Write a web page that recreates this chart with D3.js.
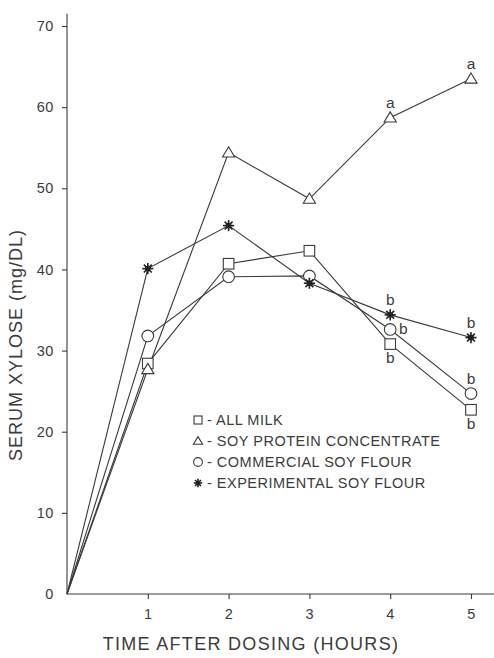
<!DOCTYPE html>
<html>
<head>
<meta charset="utf-8">
<script src="https://cdn.jsdelivr.net/npm/d3@7"></script>
<style>
  html, body { margin: 0; padding: 0; background: #fff; }
  svg text { font-family: "Liberation Sans", "DejaVu Sans", sans-serif; fill: #3c3c3c; }
</style>
</head>
<body>
<svg id="chart" width="494" height="658"></svg>
<script>
// Serum xylose after dosing, four feeding groups
const hours = [0, 1, 2, 3, 4, 5];
const allMilk = [0, 28.4, 40.7, 42.3, 30.8, 22.7];
const soyProteinConc = [0, 27.7, 54.4, 48.7, 58.7, 63.5];
const commercialSoyFlour = [0, 31.8, 39.1, 39.2, 32.6, 24.7];
const experimentalSoyFlour = [0, 40.1, 45.4, 38.3, 34.4, 31.6];

const seriesNames = ["ALL MILK", "SOY PROTEIN CONCENTRATE", "COMMERCIAL SOY FLOUR", "EXPERIMENTAL SOY FLOUR"];
const seriesMarkers = ["square", "triangle", "circle", "star"];
const xTickValues = [1, 2, 3, 4, 5];
const yTickValues = [0, 10, 20, 30, 40, 50, 60, 70];

// Significance letters: [series index, hour index, letter, placement]
const sigLetters = [
  [1, 4, "a", "above"], [1, 5, "a", "above"],
  [3, 4, "b", "above"], [2, 4, "b", "right"], [0, 4, "b", "below"],
  [3, 5, "b", "above"], [2, 5, "b", "above"], [0, 5, "b", "below"]
];

const seriesData = [allMilk, soyProteinConc, commercialSoyFlour, experimentalSoyFlour];

const svg = d3.select("#chart");
const ink = "#3a3a3a";

const x = d3.scaleLinear().domain([0, 5]).range([67, 471]);
const y = d3.scaleLinear().domain([0, 70]).range([594, 26]);

// Axes
const xAxis = svg.append("g").attr("transform", `translate(0,${y(0)})`)
  .call(d3.axisBottom(x).tickValues(xTickValues).tickSize(5).tickPadding(10).tickFormat(d3.format("d")));
xAxis.select(".domain").attr("d", `M${x(0)},0H494`);
const yAxis = svg.append("g").attr("transform", `translate(${x(0)},0)`)
  .call(d3.axisLeft(y).tickValues(yTickValues).tickSize(5).tickPadding(6).tickFormat(d3.format("d")));
yAxis.select(".domain").attr("d", `M0,${y(0)}V${y(71.5)}`);
svg.selectAll(".domain, .tick line").attr("stroke", ink).attr("stroke-width", 1.1);
svg.selectAll(".tick text").attr("font-size", 14.5).attr("letter-spacing", 0.6).style("fill", "#3c3c3c");
yAxis.selectAll(".tick text").attr("dx", -2);
yAxis.selectAll(".tick").filter(d => d === 0).select("line").remove();

// Axis titles
svg.append("text").attr("x", 251).attr("y", 650).attr("text-anchor", "middle")
  .attr("font-size", 18).attr("letter-spacing", 1.3).text("TIME AFTER DOSING (HOURS)");
svg.append("text").attr("transform", `translate(22,345) rotate(-90)`).attr("text-anchor", "middle")
  .attr("font-size", 18).attr("letter-spacing", 1.0).text("SERUM XYLOSE (mg/DL)");

// Marker drawing
function drawMarker(g, kind, cx, cy, s) {
  if (kind === "square") {
    g.append("rect").attr("x", cx - s).attr("y", cy - s).attr("width", 2 * s).attr("height", 2 * s)
      .attr("fill", "#fff").attr("stroke", ink).attr("stroke-width", 1.1);
  } else if (kind === "triangle") {
    const h = s * 1.1;
    g.append("path").attr("d", `M${cx},${cy - h}L${cx + s * 1.15},${cy + h * 0.75}L${cx - s * 1.15},${cy + h * 0.75}Z`)
      .attr("fill", "#fff").attr("stroke", ink).attr("stroke-width", 1.1);
  } else if (kind === "circle") {
    g.append("circle").attr("cx", cx).attr("cy", cy).attr("r", s * 1.1)
      .attr("fill", "#fff").attr("stroke", ink).attr("stroke-width", 1.1);
  } else {
    const r = s * 1.05;
    for (let k = 0; k < 4; k++) {
      const a = k * Math.PI / 4;
      g.append("line").attr("x1", cx - r * Math.cos(a)).attr("y1", cy - r * Math.sin(a))
        .attr("x2", cx + r * Math.cos(a)).attr("y2", cy + r * Math.sin(a))
        .attr("stroke", "#222").attr("stroke-width", 1.6);
    }
    g.append("circle").attr("cx", cx).attr("cy", cy).attr("r", s * 0.55).attr("fill", "#222");
  }
}

// Lines and markers
const line = d3.line().x((d, i) => x(hours[i])).y(d => y(d));
seriesData.forEach((vals, si) => {
  svg.append("path").datum(vals).attr("d", line)
    .attr("fill", "none").attr("stroke", ink).attr("stroke-width", 1.1);
});
seriesData.forEach((vals, si) => {
  const g = svg.append("g");
  vals.forEach((v, i) => {
    if (i === 0) return;
    drawMarker(g, seriesMarkers[si], x(hours[i]), y(v), 5.3);
  });
});

// Significance letters
sigLetters.forEach(([si, hi, letter, pos]) => {
  const cx = x(hours[hi]), cy = y(seriesData[si][hi]);
  let tx = cx, ty = cy;
  if (pos === "above") ty = cy - 10;
  else if (pos === "below") ty = cy + 19;
  else { tx = cx + 13; ty = cy + 5; }
  svg.append("text").attr("x", tx).attr("y", ty).attr("text-anchor", "middle")
    .attr("font-size", 15.5).text(letter);
});

// Legend
const legend = svg.append("g");
seriesNames.forEach((name, i) => {
  const ly = 420 + i * 21;
  drawMarker(legend, seriesMarkers[i], 198, ly, 4);
  legend.append("text").attr("x", 207).attr("y", ly + 5).attr("font-size", 14.5)
    .attr("letter-spacing", 0.5).text("- " + name);
});
</script>
</body>
</html>
